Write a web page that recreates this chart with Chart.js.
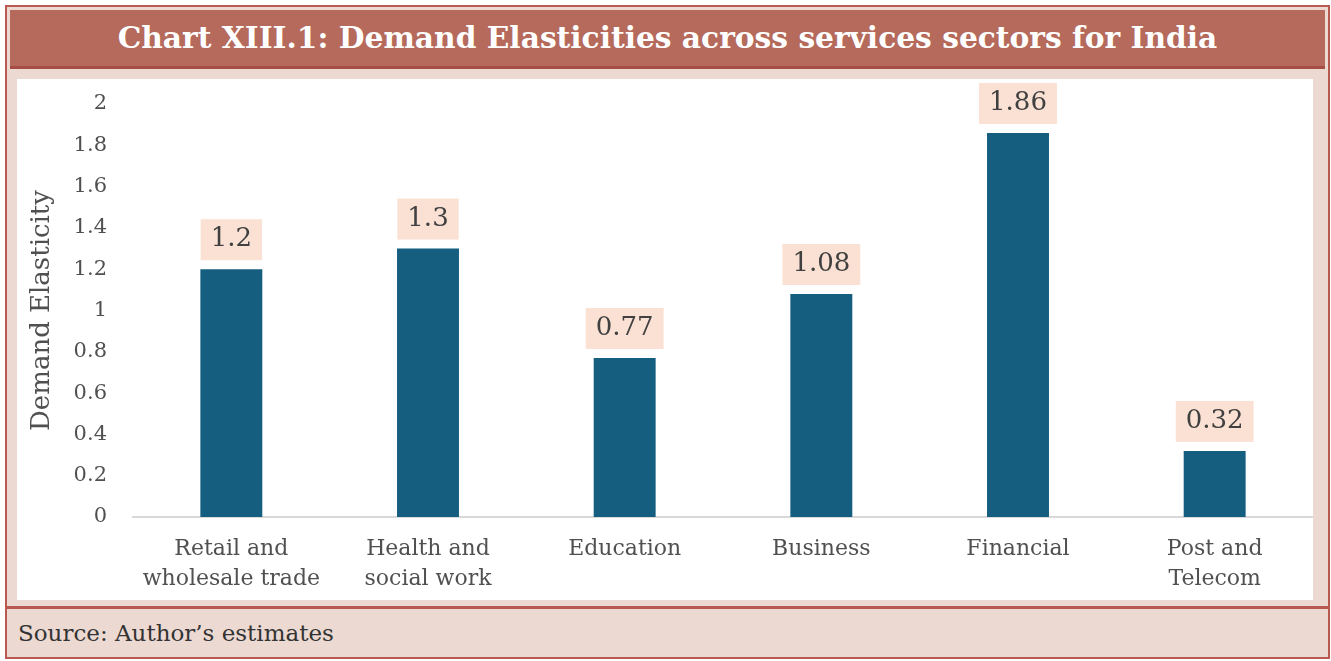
<!DOCTYPE html>
<html>
<head>
<meta charset="utf-8">
<script src="https://cdn.jsdelivr.net/npm/chart.js@4"></script>
<style>
  body { margin: 0; background: #fff; }
  #frame {
    position: absolute; left: 5px; top: 5px; width: 1321px; height: 650px;
    border: 2px solid #b85a50; background: #ecd9d1;
  }
  #title {
    position: absolute; left: 3px; top: 3px; right: 3px; height: 56px;
    background: #b56a5b; border-bottom: 3px solid #a84d45;
    color: #fff; font: bold 29.7px "DejaVu Serif", serif;
    text-align: center; line-height: 56px; white-space: nowrap;
  }
  #plot {
    position: absolute; left: 10px; top: 72px; width: 1296px; height: 521px; background: #fff;
  }
  #source {
    position: absolute; left: 0; right: 0; top: 599px; bottom: 0;
    border-top: 3px solid #b85a50;
    font: 23px "DejaVu Serif", serif; color: #333;
    padding-left: 11px; line-height: 48px;
  }
</style>
</head>
<body>
<div id="frame">
  <div id="title">Chart XIII.1: Demand Elasticities across services sectors for India</div>
  <div id="plot"><canvas id="chart" width="1296" height="521"></canvas></div>
  <div id="source">Source: Author’s estimates</div>
</div>
<script>
const $ = document;

const sectors = [
  ["Retail and", "wholesale trade"],
  ["Health and", "social work"],
  "Education",
  "Business",
  "Financial",
  ["Post and", "Telecom"],
];
const elasticities = [1.2, 1.3, 0.77, 1.08, 1.86, 0.32];
const yTicks = [0, 0.2, 0.4, 0.6, 0.8, 1, 1.2, 1.4, 1.6, 1.8, 2];

const serif = "'DejaVu Serif', serif";

// peach boxes with the value above each bar
const valueBoxes = {
  id: "valueBoxes",
  afterDatasetsDraw(chart) {
    const ctx = chart.ctx;
    const meta = chart.getDatasetMeta(0);
    ctx.save();
    ctx.font = "26px " + serif;
    ctx.textAlign = "center";
    ctx.textBaseline = "middle";
    meta.data.forEach((bar, i) => {
      const txt = String(elasticities[i]);
      const w = ctx.measureText(txt).width + 20;
      const h = 41;
      const bottom = bar.y - 9;
      ctx.fillStyle = "#fbe1d4";
      ctx.fillRect(bar.x - w / 2, bottom - h, w, h);
      ctx.fillStyle = "#404040";
      ctx.fillText(txt, bar.x, bottom - h / 2);
    });
    ctx.restore();
  },
};

function drawChart() {
  const canvas = $.getElementById("chart");
  new Chart(canvas, {
    type: "bar",
    data: {
      labels: sectors,
      datasets: [{
        data: elasticities,
        backgroundColor: "#165e80",
        barPercentage: 0.315,
        categoryPercentage: 1,
      }],
    },
    options: {
      responsive: false,
      animation: false,
      layout: { padding: 0 },
      plugins: { legend: { display: false }, tooltip: { enabled: false } },
      scales: {
        y: {
          min: 0, max: 2,
          afterFit: (s) => {
            s.width = 116;
            // tick padding would otherwise push the top down
            s.paddingTop = 25;
            s.paddingBottom = 0;
          },
          afterBuildTicks: (s) => { s.ticks = yTicks.map((v) => ({ value: v })); },
          grid: { display: false, drawTicks: false },
          border: { display: false },
          ticks: {
            padding: 26,
            color: "#505050",
            font: { family: serif, size: 21 },
            callback: (v) => String(v),
          },
          title: {
            display: true,
            text: "Demand Elasticity",
            color: "#505050",
            font: { family: serif, size: 26 },
            padding: { top: 10, bottom: 0 },
          },
        },
        x: {
          afterFit: (s) => { s.height = 83; },
          grid: { display: false, drawTicks: false },
          border: { display: true, color: "#d9d9d9", width: 2 },
          ticks: {
            padding: 17,
            color: "#505050",
            maxRotation: 0,
            font: { family: serif, size: 22, lineHeight: 1.36 },
          },
        },
      },
    },
    plugins: [valueBoxes],
  });
}

drawChart();
</script>
</body>
</html>
